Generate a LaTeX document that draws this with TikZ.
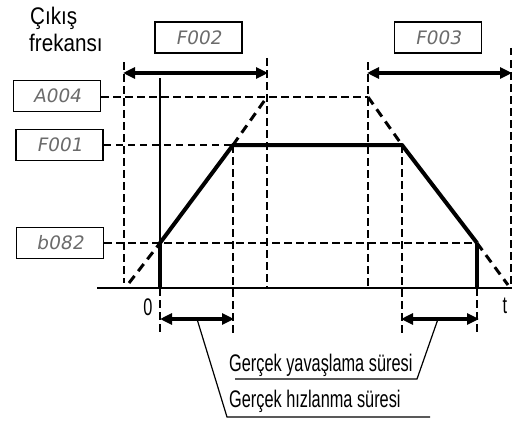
\documentclass[tikz,border=0pt]{standalone}
\usepackage{fontspec}
\setmainfont{Liberation Sans}[FakeStretch=0.68]
\newfontfamily\widefont{Liberation Sans}[FakeStretch=0.86]
\newfontfamily\lcdfont{DejaVu Sans}[FakeSlant=0.18]
\usetikzlibrary{arrows.meta}
\definecolor{lcdgray}{gray}{0.42}
\begin{document}
\begin{tikzpicture}[x=1pt,y=-1pt,
  lcdbox/.style={draw=black,line width=1.6pt,minimum width=87pt,minimum height=31pt,inner sep=0pt,
    font=\lcdfont\fontsize{18.5}{18.5}\selectfont,text=lcdgray},
  guide/.style={line width=2.2pt,dash pattern=on 7.5pt off 4.5pt},
  vguide/.style={line width=2pt,dash pattern=on 7.5pt off 4.5pt},
  ramp/.style={line width=4pt,line cap=butt},
  rampdash/.style={line width=3pt,dash pattern=on 9pt off 6pt},
  span/.style={line width=3.5pt,{Triangle[length=12pt,width=11pt]}-{Triangle[length=12pt,width=11pt]},shorten <=-1pt,shorten >=-1pt},
  leader/.style={line width=1.2pt},
  lbl/.style={font=\fontsize{24}{28}\selectfont,inner sep=0pt},
  toplbl/.style={font=\widefont\fontsize{24}{28}\selectfont,inner sep=0pt}]
\useasboundingbox (0,0) rectangle (516,420);

% value boxes
\node[lcdbox] (F002) at (198.5,37.5) {F002};
\node[lcdbox] (F003) at (438,37.5) {F003};
\node[lcdbox] (A004) at (57,96) {A004};
\node[lcdbox] (F001) at (59.5,145) {F001};
\node[lcdbox] (b082) at (60,243) {b082};

% axis title
\node[toplbl,anchor=base west] (t1) at (30,25) {Çıkış};
\node[toplbl,anchor=base west] (t2) at (29,52) {frekansı};

% key coordinates
\coordinate (L0) at (124,62);   \coordinate (L1) at (124,283);
\coordinate (B0) at (267,58);   \coordinate (B1) at (267,288);
\coordinate (C0) at (368,62);   \coordinate (C1) at (368,288);
\coordinate (R0) at (511,48);   \coordinate (R1) at (511,288);
\coordinate (Zt) at (160,78);
\coordinate (Zb) at (160,243);
\coordinate (Za) at (160,288);
\coordinate (Zd) at (160,333);
\coordinate (Ab) at (233,145);
\coordinate (Ad) at (233,333);
\coordinate (Db) at (402,145);
\coordinate (Dd) at (402,333);
\coordinate (Eb) at (477,243);
\coordinate (Ea) at (477,288);
\coordinate (Ed) at (477,333);
\coordinate (Peak1) at (267,97);
\coordinate (Peak2) at (368,97);
\coordinate (S0) at (129,283);
\coordinate (S1) at (508,285);
\coordinate (AxL) at (97,288);
\coordinate (AxR) at (512,288);

% vertical dashed guides
\draw[vguide] (L0) -- (L1);
\draw[vguide] (B0) -- (B1);
\draw[vguide] (C0) -- (C1);
\draw[vguide] (R0) -- (R1);
\draw[vguide] (Ab) -- (Ad);
\draw[vguide] (Db) -- (Dd);
\draw[vguide] (Za) -- (Zd);
\draw[vguide] (Ea) -- (Ed);

% horizontal dashed guides
\draw[guide] (A004.east |- Peak1) -- (Peak2);
\draw[guide] (F001.east) -- (Ab);
\draw[guide] (b082.east) -- (Eb);

% thin vertical at 0
\draw[line width=1.5pt] (Zt) -- (Zb);

% axis
\draw[line width=2pt] (AxL) -- (AxR);

% ramps
\draw[rampdash] (S0) -- (Zb);
\draw[rampdash] (Ab) -- (Peak1);
\draw[rampdash] (Peak2) -- (Db);
\draw[rampdash] (Eb) -- (S1);
\draw[ramp,line join=round] (Zb) -- (Ab) -- (Db) -- (Eb);
\draw[ramp] (Zb) -- (Za);
\draw[ramp] (Eb) -- (Ea);

% top spans
\draw[span] (124,73) -- (267,73);
\draw[span] (368,73) -- (511,73);

% bottom spans
\draw[span] (161,319) -- (233,319);
\draw[span] (402,319) -- (478,319);
\coordinate (acc) at (197,319);
\coordinate (dec) at (438,319);

% axis labels
\node[lbl] (zero) at (148,307) {0};
\node[lbl] (tlab) at (505,306) {t};

% leader labels
\node[lbl,anchor=base west] (ylab) at (229,371) {Gerçek yavaşlama süresi};
\node[lbl,anchor=base west] (hlab) at (229,407) {Gerçek hızlanma süresi};
\coordinate (y1) at (417,379); \coordinate (y2) at (235,379);
\coordinate (h1) at (227,417); \coordinate (h2) at (430,417);
\draw[leader] (dec) -- (y1) -- (y2);
\draw[leader] (acc) -- (h1) -- (h2);
\end{tikzpicture}
\end{document}
